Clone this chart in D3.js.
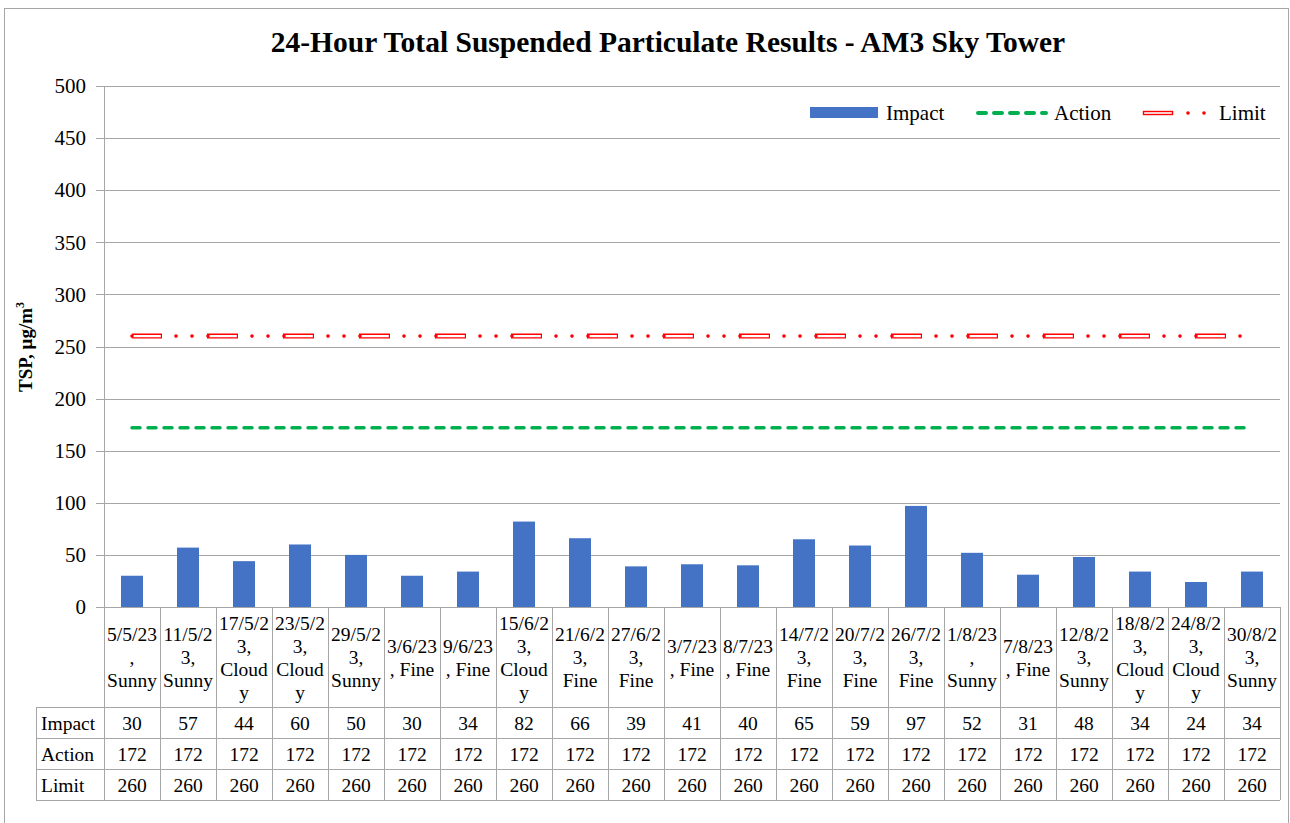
<!DOCTYPE html>
<html>
<head>
<meta charset="utf-8">
<script src="https://cdn.jsdelivr.net/npm/d3@7"></script>
<style>
  body { margin: 0; background: #fff; }
  svg { display: block; font-family: "Liberation Serif", "Times New Roman", serif; }
</style>
</head>
<body>
<svg id="chart" width="1290" height="823"></svg>
<script>
// category labels, broken the way the spreadsheet wrapped them
var categories = [
  ["5/5/23", ",", "Sunny"], ["11/5/2", "3,", "Sunny"], ["17/5/2", "3,", "Cloud", "y"],
  ["23/5/2", "3,", "Cloud", "y"], ["29/5/2", "3,", "Sunny"], ["3/6/23", ", Fine"],
  ["9/6/23", ", Fine"], ["15/6/2", "3,", "Cloud", "y"], ["21/6/2", "3,", "Fine"],
  ["27/6/2", "3,", "Fine"], ["3/7/23", ", Fine"], ["8/7/23", ", Fine"],
  ["14/7/2", "3,", "Fine"], ["20/7/2", "3,", "Fine"], ["26/7/2", "3,", "Fine"],
  ["1/8/23", ",", "Sunny"], ["7/8/23", ", Fine"], ["12/8/2", "3,", "Sunny"],
  ["18/8/2", "3,", "Cloud", "y"], ["24/8/2", "3,", "Cloud", "y"], ["30/8/2", "3,", "Sunny"]
];
var impact = [30, 57, 44, 60, 50, 30, 34, 82, 66, 39, 41, 40, 65, 59, 97, 52, 31, 48, 34, 24, 34];
var action = [172, 172, 172, 172, 172, 172, 172, 172, 172, 172, 172, 172, 172, 172, 172, 172, 172, 172, 172, 172, 172];
var limit = [260, 260, 260, 260, 260, 260, 260, 260, 260, 260, 260, 260, 260, 260, 260, 260, 260, 260, 260, 260, 260];
var yTicks = [0, 50, 100, 150, 200, 250, 300, 350, 400, 450, 500];

var plotLeft = 104, plotRight = 1280, plotTop = 86, plotBottom = 607;
var rowH = 31, catH = 100, labelLeft = 36;
var gridColor = "#a6a6a6";

var svg = d3.select("#chart");

// outer frame
svg.append("rect")
  .attr("x", 4.5).attr("y", 8.5).attr("width", 1284).attr("height", 830)
  .attr("fill", "#fff").attr("stroke", "#a6a6a6");

var x = d3.scaleBand().domain(d3.range(categories.length)).range([plotLeft, plotRight]).padding(0);
var y = d3.scaleLinear().domain([0, 500]).range([plotBottom, plotTop]);

// title
svg.append("text")
  .attr("x", 668).attr("y", 52)
  .attr("text-anchor", "middle")
  .style("font-size", "29.5px").style("font-weight", "bold")
  .text("24-Hour Total Suspended Particulate Results - AM3 Sky Tower");

// gridlines
var grid = svg.append("g")
  .attr("transform", "translate(" + plotLeft + ",0)")
  .call(d3.axisLeft(y).tickValues(yTicks).tickSize(-(plotRight - plotLeft)).tickFormat(""));
grid.select(".domain").remove();
grid.selectAll("line").attr("stroke", gridColor).attr("shape-rendering", "crispEdges");

// y axis with labels
var yAxis = svg.append("g")
  .attr("transform", "translate(" + plotLeft + ",0)")
  .call(d3.axisLeft(y).tickValues(yTicks).tickSize(8).tickSizeOuter(0).tickPadding(10));
yAxis.select(".domain").attr("stroke", gridColor).attr("shape-rendering", "crispEdges");
yAxis.selectAll("line").attr("stroke", gridColor).attr("shape-rendering", "crispEdges");
yAxis.selectAll("text")
  .attr("fill", "#000")
  .style("font-size", "21px")
  .style("font-family", "'Liberation Serif', 'Times New Roman', serif");

// y axis title
svg.append("text")
  .attr("transform", "translate(32,347) rotate(-90)")
  .attr("text-anchor", "middle")
  .style("font-size", "19px").style("font-weight", "bold")
  .text("TSP, μg/m")
  .append("tspan").attr("dy", -8).style("font-size", "12px").text("3");

// bars
var barW = 22;
svg.append("g").selectAll("rect")
  .data(impact)
  .enter().append("rect")
  .attr("x", function(d, i) { return x(i) + x.bandwidth() / 2 - barW / 2; })
  .attr("y", function(d) { return y(d); })
  .attr("width", barW)
  .attr("height", function(d) { return y(0) - y(d); })
  .attr("fill", "#4472C4");

var cx = function(d, i) { return x(i) + x.bandwidth() / 2; };

// action line
var actionLine = d3.line().x(cx).y(function(d) { return y(d); });
svg.append("path")
  .attr("d", actionLine(action))
  .attr("fill", "none")
  .attr("stroke", "#00B050")
  .attr("stroke-width", 3.5)
  .attr("stroke-linecap", "round")
  .attr("stroke-dasharray", "8 8");

// limit line: hollow long dash, then two dots
var limitLine = d3.line().x(cx).y(function(d) { return y(d); });
var limitPath = limitLine(limit);
svg.append("path")
  .attr("d", limitPath).attr("fill", "none")
  .attr("stroke", "#FF0000").attr("stroke-width", 5)
  .attr("stroke-dasharray", "31 45").attr("stroke-dashoffset", 1);
svg.append("path")
  .attr("d", limitPath).attr("fill", "none")
  .attr("stroke", "#fff").attr("stroke-width", 2.2)
  .attr("stroke-dasharray", "28.6 47.4").attr("stroke-dashoffset", -0.2);
svg.append("path")
  .attr("d", limitPath).attr("fill", "none")
  .attr("stroke", "#FF0000").attr("stroke-width", 3.6)
  .attr("stroke-linecap", "round")
  .attr("stroke-dasharray", "0 44 0 16 0 16");

// data table
var tbl = svg.append("g").attr("shape-rendering", "crispEdges");
var tableBottom = plotBottom + catH + rowH * 3;
// vertical borders
tbl.selectAll("line.v")
  .data(d3.range(categories.length + 1))
  .enter().append("line")
  .attr("x1", function(i) { return i < categories.length ? x(i) : plotRight; })
  .attr("x2", function(i) { return i < categories.length ? x(i) : plotRight; })
  .attr("y1", plotBottom).attr("y2", tableBottom)
  .attr("stroke", gridColor);
tbl.append("line")
  .attr("x1", labelLeft).attr("x2", labelLeft)
  .attr("y1", plotBottom + catH).attr("y2", tableBottom)
  .attr("stroke", gridColor);
// horizontal borders
tbl.selectAll("line.h")
  .data([0, 1, 2, 3])
  .enter().append("line")
  .attr("x1", labelLeft).attr("x2", plotRight)
  .attr("y1", function(k) { return plotBottom + catH + k * rowH; })
  .attr("y2", function(k) { return plotBottom + catH + k * rowH; })
  .attr("stroke", gridColor);

// category labels
var lineH = 23;
var catG = svg.append("g").style("font-size", "19.5px");
categories.forEach(function(lines, i) {
  var y0 = plotBottom + catH / 2 - (lines.length - 1) * lineH / 2;
  var t = catG.append("text")
    .attr("text-anchor", "middle")
    .attr("dominant-baseline", "central");
  lines.forEach(function(s, k) {
    t.append("tspan").attr("x", cx(null, i)).attr("y", y0 + k * lineH).text(s);
  });
});

// table rows
var rows = [["Impact", impact], ["Action", action], ["Limit", limit]];
var rowG = svg.append("g").style("font-size", "19.5px");
rows.forEach(function(r, k) {
  var ym = plotBottom + catH + k * rowH + rowH / 2 + 1;
  rowG.append("text")
    .attr("x", labelLeft + 5).attr("y", ym)
    .attr("dominant-baseline", "central")
    .text(r[0]);
  rowG.selectAll("text.v" + k)
    .data(r[1])
    .enter().append("text")
    .attr("x", cx).attr("y", ym)
    .attr("text-anchor", "middle")
    .attr("dominant-baseline", "central")
    .text(function(d) { return d; });
});

// legend
var lg = svg.append("g").style("font-size", "21px");
var ly = 113;
lg.append("rect").attr("x", 810).attr("y", ly - 6).attr("width", 68).attr("height", 11).attr("fill", "#4472C4");
lg.append("text").attr("x", 886).attr("y", ly).attr("dominant-baseline", "central").text("Impact");
lg.append("line").attr("x1", 978).attr("x2", 1046).attr("y1", ly).attr("y2", ly)
  .attr("stroke", "#00B050").attr("stroke-width", 4).attr("stroke-linecap", "round")
  .attr("stroke-dasharray", "8 8");
lg.append("text").attr("x", 1054).attr("y", ly).attr("dominant-baseline", "central").text("Action");
lg.append("rect").attr("x", 1143.5).attr("y", ly - 1.5).attr("width", 29).attr("height", 3)
  .attr("fill", "#fff").attr("stroke", "#FF0000").attr("stroke-width", 1.4);
lg.selectAll("circle").data([1188, 1204]).enter().append("circle")
  .attr("cx", function(d) { return d; }).attr("cy", ly).attr("r", 1.8).attr("fill", "#FF0000");
lg.append("text").attr("x", 1219).attr("y", ly).attr("dominant-baseline", "central").text("Limit");
</script>
</body>
</html>
